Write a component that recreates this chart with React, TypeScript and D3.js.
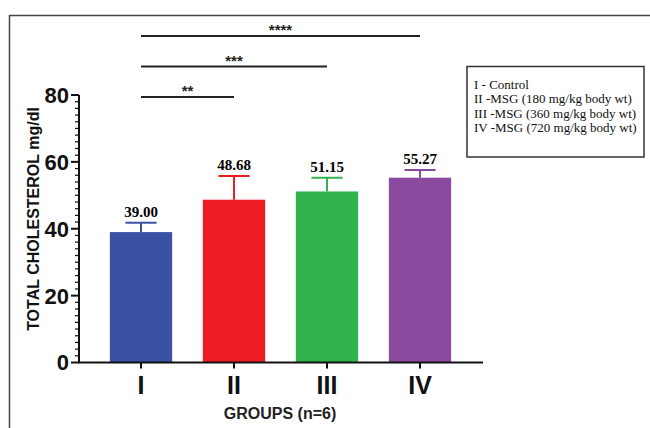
import React, { useEffect, useRef } from 'react';
import * as d3 from 'd3';

// chart data
const groups = ['I', 'II', 'III', 'IV'];
const means = [39.0, 48.68, 51.15, 55.27];
const errors = [2.8, 7.1, 4.1, 2.3];
const valueLabels = ['39.00', '48.68', '51.15', '55.27'];
const colors = ['#3a52a3', '#ec1c24', '#32b34b', '#8a4a9e'];
const yTicks = [0, 20, 40, 60, 80];
const legendItems = [
  'I - Control',
  'II -MSG (180 mg/kg body wt)',
  'III -MSG (360 mg/kg body wt)',
  'IV -MSG (720 mg/kg body wt)',
];
// significance brackets: from group I to group ...
const sigTo = ['II', 'III', 'IV'];
const sigStars = ['**', '***', '****'];

function App() {
  const svgRef = useRef(null);

  useEffect(() => {
    const svg = d3.select(svgRef.current);
    svg.selectAll('*').remove();

    const sans = 'Liberation Sans, Arial, sans-serif';
    const serif = 'Liberation Serif, Times New Roman, serif';

    // frame (left + top)
    svg
      .append('path')
      .attr('d', 'M9.5,428 L9.5,15.5 L650,15.5')
      .attr('fill', 'none')
      .attr('stroke', '#444')
      .attr('stroke-width', 1.5);

    var x = d3
      .scaleBand()
      .domain(groups)
      .range([94.5, 466.5])
      .paddingInner(0.33)
      .paddingOuter(0.165);

    var y = d3.scaleLinear().domain([0, 80]).range([362.5, 95]);

    // bars
    svg
      .append('g')
      .selectAll('rect')
      .data(groups)
      .enter()
      .append('rect')
      .attr('x', (d) => x(d))
      .attr('y', (d, i) => y(means[i]))
      .attr('width', x.bandwidth())
      .attr('height', (d, i) => y(0) - y(means[i]))
      .style('fill', (d, i) => colors[i]);

    // error bars
    const eb = svg.append('g');
    groups.forEach(function (g, i) {
      const cx = x(g) + x.bandwidth() / 2;
      const top = y(means[i] + errors[i]);
      eb.append('line')
        .attr('x1', cx)
        .attr('x2', cx)
        .attr('y1', y(means[i]))
        .attr('y2', top)
        .attr('stroke', colors[i])
        .attr('stroke-width', 2);
      eb.append('line')
        .attr('x1', cx - x.bandwidth() / 4)
        .attr('x2', cx + x.bandwidth() / 4)
        .attr('y1', top)
        .attr('y2', top)
        .attr('stroke', colors[i])
        .attr('stroke-width', 2);
      eb.append('text')
        .attr('x', cx)
        .attr('y', top - 6)
        .attr('text-anchor', 'middle')
        .style('font-family', serif)
        .style('font-weight', 'bold')
        .style('font-size', '15px')
        .text(valueLabels[i]);
    });

    // y axis
    const yAxis = svg.append('g').attr('transform', 'translate(79,0)');
    yAxis
      .append('line')
      .attr('x1', 0)
      .attr('x2', 0)
      .attr('y1', y(80))
      .attr('y2', y(0))
      .attr('stroke', '#111')
      .attr('stroke-width', 2);
    yAxis
      .selectAll('line.minor')
      .data(d3.range(0, 81, 2))
      .enter()
      .append('line')
      .attr('class', 'minor')
      .attr('x1', (d) => (d % 20 === 0 ? -8 : -4))
      .attr('x2', 0)
      .attr('y1', (d) => y(d))
      .attr('y2', (d) => y(d))
      .attr('stroke', '#111')
      .attr('stroke-width', (d) => (d % 20 === 0 ? 2 : 1.2));
    yAxis
      .selectAll('text')
      .data(yTicks)
      .enter()
      .append('text')
      .attr('x', -10)
      .attr('y', (d) => y(d))
      .attr('dy', '0.36em')
      .attr('text-anchor', 'end')
      .style('font-family', sans)
      .style('font-weight', 'bold')
      .style('font-size', '22px')
      .style('fill', '#111')
      .text((d) => d);

    svg
      .append('text')
      .attr('transform', 'translate(39,219) rotate(-90)')
      .attr('text-anchor', 'middle')
      .style('font-family', sans)
      .style('font-weight', 'bold')
      .style('font-size', '16px')
      .style('fill', '#111')
      .text('TOTAL CHOLESTEROL mg/dl');

    // x axis
    const xAxis = svg.append('g').attr('transform', 'translate(0,' + y(0) + ')');
    xAxis
      .append('line')
      .attr('x1', 78)
      .attr('x2', 483)
      .attr('stroke', '#111')
      .attr('stroke-width', 2);
    xAxis
      .selectAll('line.tick')
      .data(groups)
      .enter()
      .append('line')
      .attr('class', 'tick')
      .attr('x1', (d) => x(d) + x.bandwidth() / 2)
      .attr('x2', (d) => x(d) + x.bandwidth() / 2)
      .attr('y1', 0)
      .attr('y2', 6)
      .attr('stroke', '#111')
      .attr('stroke-width', 2);
    xAxis
      .selectAll('text')
      .data(groups)
      .enter()
      .append('text')
      .attr('x', (d) => x(d) + x.bandwidth() / 2)
      .attr('y', 31)
      .attr('text-anchor', 'middle')
      .style('font-family', sans)
      .style('font-weight', 'bold')
      .style('font-size', '25px')
      .style('fill', '#111')
      .text((d) => d);

    svg
      .append('text')
      .attr('x', 280)
      .attr('y', 419)
      .attr('text-anchor', 'middle')
      .style('font-family', sans)
      .style('font-weight', 'bold')
      .style('font-size', '16px')
      .style('fill', '#222')
      .text('GROUPS (n=6)');

    // significance lines
    const sig = svg.append('g');
    sigTo.forEach(function (g, i) {
      const x1 = x('I') + x.bandwidth() / 2;
      const x2 = x(g) + x.bandwidth() / 2;
      const ly = 97 - i * 30.5;
      sig
        .append('line')
        .attr('x1', x1)
        .attr('x2', x2)
        .attr('y1', ly)
        .attr('y2', ly)
        .attr('stroke', '#222')
        .attr('stroke-width', 2);
      sig
        .append('text')
        .attr('x', (x1 + x2) / 2)
        .attr('y', ly - 1)
        .attr('text-anchor', 'middle')
        .style('font-family', sans)
        .style('font-weight', 'bold')
        .style('font-size', '15px')
        .style('fill', '#222')
        .text(sigStars[i]);
    });

    // legend box
    const lg = svg.append('g');
    lg.append('rect')
      .attr('x', 467)
      .attr('y', 66.5)
      .attr('width', 177)
      .attr('height', 90.5)
      .attr('fill', 'white')
      .attr('stroke', '#333')
      .attr('stroke-width', 1.5);
    lg.selectAll('text')
      .data(legendItems)
      .enter()
      .append('text')
      .attr('x', 474)
      .attr('y', (d, i) => 88.5 + i * 14.5)
      .style('font-family', serif)
      .style('font-size', '13px')
      .style('fill', '#111')
      .text((d) => d);
  }, []);

  return (
    <svg
      ref={svgRef}
      width={650}
      height={428}
      style={{ position: 'absolute', left: 0, top: 0, background: 'white' }}
    ></svg>
  );
}

export default App;
